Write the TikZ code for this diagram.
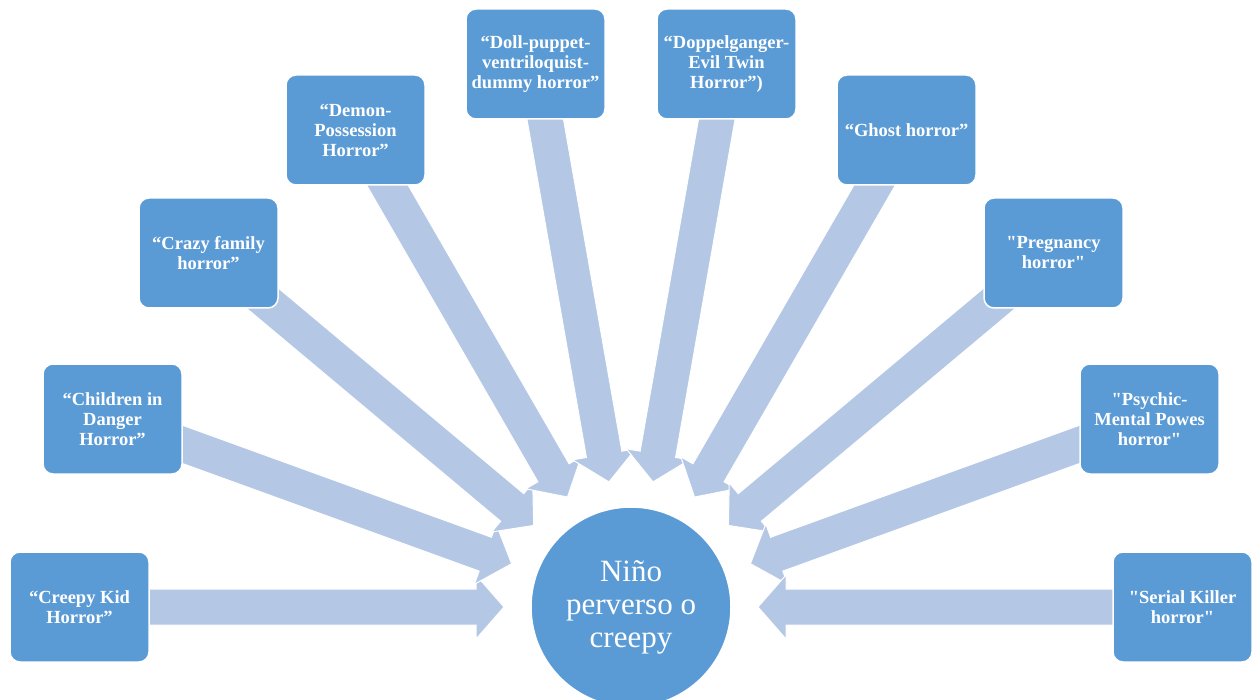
\documentclass[tikz,border=0pt]{standalone}
\usepackage{fontspec}
\setmainfont{Liberation Serif}[Ligatures=TeXOff]
\usetikzlibrary{calc}
\pgfdeclarelayer{bg}
\pgfsetlayers{bg,main}
\definecolor{boxblue}{RGB}{91,155,213}
\definecolor{arrowblue}{RGB}{180,200,230}
\tikzset{
  topic/.style={rectangle, rounded corners=10pt, fill=boxblue, draw=white,
    line width=1.5pt, minimum width=139pt, minimum height=110pt, inner sep=0pt,
    align=center, text=white, font=\bfseries\fontsize{18.5}{20}\selectfont},
  hubnode/.style={circle, fill=boxblue, draw=white, line width=1.5pt,
    minimum size=200pt, inner sep=0pt, align=center, text=white,
    font=\fontsize{31}{33}\selectfont},
  flow/.style={fill=arrowblue, draw=white, line width=1pt, line join=miter},
}
% block arrow from a topic box towards the hub: tip 127pt from the hub centre
\newcommand\flowarrow[1]{%
  \path[flow]
    ($(hub.center)!127pt!(#1.center)$)
    -- ($($(hub.center)!155pt!(#1.center)$)!32pt!90:(#1.center)$)
    -- ($($(hub.center)!155pt!(#1.center)$)!18pt!90:(#1.center)$)
    -- ($(#1.center)!18pt!-90:(hub.center)$)
    -- ($(#1.center)!18pt!90:(hub.center)$)
    -- ($($(hub.center)!155pt!(#1.center)$)!18pt!-90:(#1.center)$)
    -- ($($(hub.center)!155pt!(#1.center)$)!32pt!-90:(#1.center)$)
    -- cycle;}
\begin{document}
\begin{tikzpicture}[x=1pt,y=1pt]
  \useasboundingbox (0,0) rectangle (1257,-700);
  \clip (0,0) rectangle (1257,-700);
  \node[hubnode] (hub) at (631,-607) {Niño\\perverso o\\creepy};
  \node[topic] (kid) at (79.5,-607) {“Creepy Kid\\Horror”};
  \node[topic] (danger) at (112.5,-419) {“Children in\\Danger\\Horror”};
  \node[topic] (family) at (208.5,-253) {“Crazy family\\horror”};
  \node[topic] (demon) at (355.5,-130) {“Demon-\\Possession\\Horror”};
  \node[topic] (doll) at (535.5,-64) {“Doll-puppet-\\ventriloquist-\\dummy horror”};
  \node[topic] (twin) at (726.5,-64) {“Doppelganger-\\Evil Twin\\Horror”)};
  \node[topic] (ghost) at (906.5,-130) {“Ghost horror”};
  \node[topic] (pregnancy) at (1053.5,-253) {"Pregnancy\\horror"};
  \node[topic] (psychic) at (1149.5,-419) {"Psychic-\\Mental Powes\\horror"};
  \node[topic] (killer) at (1182.5,-607) {"Serial Killer\\horror"};
  \begin{pgfonlayer}{bg}
    \foreach \b in {kid,danger,family,demon,doll,twin,ghost,pregnancy,psychic,killer}
      {\flowarrow{\b}}
  \end{pgfonlayer}
\end{tikzpicture}
\end{document}
